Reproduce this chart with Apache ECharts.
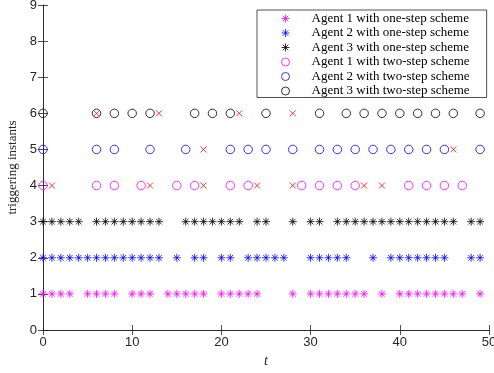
<!DOCTYPE html>
<html>
<head>
<meta charset="utf-8">
<script src="https://cdn.jsdelivr.net/npm/echarts@6/dist/echarts.min.js"></script>
<style>
  html, body { margin: 0; padding: 0; background: #fff; }
  #chart { width: 494px; height: 373px; }
</style>
</head>
<body>
<div id="chart"></div>
<script>
// Triggering instants of each agent under the one-step and two-step schemes
const oneStepAgent1 = [0,1,2,3,5,6,7,8,10,11,12,14,15,16,17,18,20,21,22,23,24,28,30,31,32,33,34,35,36,38,40,41,42,43,44,45,46,47,49];
const oneStepAgent2 = [0,1,2,3,4,5,6,7,8,9,10,11,12,13,15,17,18,20,21,23,24,25,26,27,30,31,32,33,34,37,39,40,41,42,43,44,45,48,49];
const oneStepAgent3 = [0,1,2,3,4,6,7,8,9,10,11,12,13,16,17,18,19,20,21,22,24,25,28,30,31,33,34,35,36,37,38,39,40,41,42,43,44,45,46,48,49];
const twoStepAgent1 = [0,6,8,11,15,17,21,23,29,31,33,35,41,43,45,47];
const twoStepAgent2 = [0,6,8,12,16,21,23,25,28,31,33,35,37,39,41,43,45,49];
const twoStepAgent3 = [0,6,8,10,12,17,19,21,25,31,34,36,38,40,42,44,46,49];
// Instants marked with a red cross on the two-step rows
const crossAgent1 = [1,12,18,24,28,36,38];
const crossAgent2 = [18,46];
const crossAgent3 = [6,13,22,28];

const rowLevels = [1, 2, 3, 4, 5, 6];
const seriesNames = [
  'Agent 1 with one-step scheme',
  'Agent 2 with one-step scheme',
  'Agent 3 with one-step scheme',
  'Agent 1 with two-step scheme',
  'Agent 2 with two-step scheme',
  'Agent 3 with two-step scheme'
];
const xTicks = [0, 10, 20, 30, 40, 50];
const yTicks = [0, 1, 2, 3, 4, 5, 6, 7, 8, 9];

const ASTERISK = 'path://M0,-10L0,10M-10,0L10,0M-7,-7L7,7M-7,7L7,-7';
const CROSS = 'path://M-10,-10L10,10M-10,10L10,-10';
const SERIF = '"Liberation Serif", "DejaVu Serif", serif';
const SANS = '"Liberation Sans", Arial, sans-serif';

function pairs(times, level) {
  return times.map(t => [t, level]);
}

function starSeries(name, times, level, color) {
  return {
    name: name, type: 'scatter', data: pairs(times, level),
    symbol: ASTERISK, symbolSize: 8, symbolKeepAspect: true,
    itemStyle: { color: 'none', borderColor: color, borderWidth: 1 },
    emphasis: { disabled: true }, z: 3
  };
}
function ringSeries(name, times, level, color) {
  return {
    name: name, type: 'scatter', data: pairs(times, level),
    symbol: 'circle', symbolSize: 8.5, symbolKeepAspect: true,
    itemStyle: { color: 'none', borderColor: color, borderWidth: 1 },
    emphasis: { disabled: true }, z: 3
  };
}

const crossData = pairs(crossAgent1, rowLevels[3])
  .concat(pairs(crossAgent2, rowLevels[4]))
  .concat(pairs(crossAgent3, rowLevels[5]));

const chart = echarts.init(document.getElementById('chart'), null, { renderer: 'canvas' });

const axisLine = { show: true, lineStyle: { color: '#262626', width: 0.8 } };
const tick = { show: true, inside: true, length: 5, lineStyle: { color: '#262626', width: 0.8 } };

chart.setOption({
  animation: false,
  backgroundColor: '#fff',
  grid: { left: 43, right: 5, top: 5, bottom: 43, containLabel: false, outerBoundsMode: 'none' },
  xAxis: [
    {
      type: 'value', min: 0, max: 50, interval: 10,
      axisLine: axisLine, axisTick: tick,
      axisLabel: { color: '#262626', fontFamily: SANS, fontSize: 13, margin: 6,
        formatter: v => xTicks.includes(v) ? String(v) : '' },
      splitLine: { show: false },
      name: 't', nameLocation: 'middle', nameGap: 24,
      nameTextStyle: { fontFamily: SERIF, fontStyle: 'italic', fontSize: 14, color: '#262626' }
    },
    {
      type: 'value', position: 'top', min: 0, max: 50, interval: 10,
      axisLine: axisLine, axisTick: tick,
      axisLabel: { show: false }, splitLine: { show: false }
    }
  ],
  yAxis: [
    {
      type: 'value', min: 0, max: 9, interval: 1,
      axisLine: axisLine, axisTick: tick,
      axisLabel: { color: '#262626', fontFamily: SANS, fontSize: 13, margin: 6,
        formatter: v => yTicks.includes(v) ? String(v) : '' },
      splitLine: { show: false },
      name: 'triggering instants', nameLocation: 'middle', nameGap: 15, nameRotate: 90,
      nameTextStyle: { fontFamily: SERIF, fontSize: 13, color: '#262626' }
    },
    {
      type: 'value', position: 'right', min: 0, max: 9, interval: 1,
      axisLine: axisLine, axisTick: tick,
      axisLabel: { show: false }, splitLine: { show: false }
    }
  ],
  legend: {
    orient: 'vertical', left: 257, top: 10,
    padding: [2, 17, 0, 22],
    itemWidth: 42, itemHeight: 8, itemGap: 1.5,
    backgroundColor: '#fff', borderColor: '#262626', borderWidth: 0.8,
    textStyle: { fontFamily: SERIF, fontSize: 13, color: '#000' },
    itemStyle: { borderWidth: 1 },
    selectedMode: false,
    data: seriesNames
  },
  series: [
    starSeries(seriesNames[0], oneStepAgent1, rowLevels[0], '#ff00ff'),
    starSeries(seriesNames[1], oneStepAgent2, rowLevels[1], '#0000ff'),
    starSeries(seriesNames[2], oneStepAgent3, rowLevels[2], '#000000'),
    ringSeries(seriesNames[3], twoStepAgent1, rowLevels[3], '#ff00ff'),
    ringSeries(seriesNames[4], twoStepAgent2, rowLevels[4], '#0000ff'),
    ringSeries(seriesNames[5], twoStepAgent3, rowLevels[5], '#000000'),
    {
      name: 'cross', type: 'scatter', data: crossData,
      symbol: CROSS, symbolSize: 6, symbolKeepAspect: true,
      itemStyle: { color: 'none', borderColor: '#ff0000', borderWidth: 1 },
      emphasis: { disabled: true }, z: 4
    }
  ]
});
</script>
</body>
</html>
